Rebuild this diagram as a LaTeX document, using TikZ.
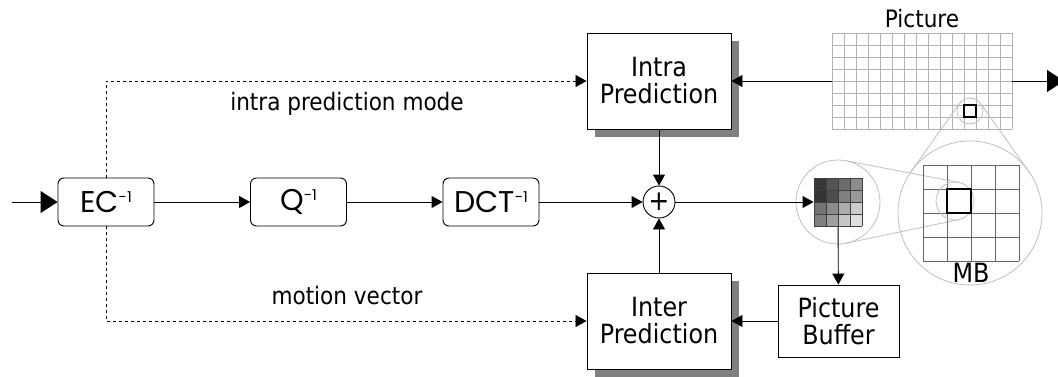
\documentclass[tikz,border=0pt]{standalone}
\usepackage{fontspec}
\setmainfont{DejaVu Sans Condensed}
\newfontfamily\geofont{Poppins}
\usetikzlibrary{arrows.meta,shadows,calc}
% raised "-1" for the inverse stages
\newcommand\invsup{\raisebox{10.5pt}{\fontsize{15}{15}\selectfont -1}}
\definecolor{gridgray}{gray}{0.70}
\definecolor{ringgray}{gray}{0.75}
\begin{document}
\begin{tikzpicture}[x=1pt,y=-1pt,line width=0.9pt,
  lbl/.style={font=\fontsize{24}{24}\selectfont},
  boxlbl/.style={font=\fontsize{26.5}{27}\selectfont},
  stage/.style={draw, rounded corners=6pt, minimum width=96pt, minimum height=48pt,
    inner sep=0pt, font=\geofont\fontsize{30}{30}\selectfont},
  predbox/.style={draw, fill=white, minimum width=144pt, minimum height=96pt, inner sep=0pt,
    align=center, boxlbl, drop shadow={shadow xshift=8pt, shadow yshift=-8pt, fill=black!50, opacity=1}},
  bufbox/.style={draw, fill=white, minimum width=121pt, minimum height=72pt, inner sep=0pt,
    align=center, boxlbl},
  arr/.style={-{Triangle[length=11pt,width=12pt]}},
  bigarr/.style={-{Triangle[length=17pt,width=22pt]}},
  sideinfo/.style={dashed, dash pattern=on 3pt off 3pt, line width=0.7pt, -{Triangle[length=11pt,width=12pt]}},
  ring/.style={draw=ringgray, line width=0.8pt},
  thick square/.style={draw=black, line width=2.6pt}]
\useasboundingbox (0,0) rectangle (1058,376);

% ---------- zoom rings and tangent lines (drawn first, behind everything) ----------
\coordinate (c1) at (838,202);   % ring round the reconstructed block
\coordinate (c2) at (955,201);   % small ring inside the MB view
\coordinate (c3) at (970,111);   % small ring on the picture
\coordinate (c4) at (970,213);   % MB view ring
\draw[ring] (c4) circle[radius=72];
\draw[ring] ($(c1)+(-78.7:42)$) -- ($(c2)+(-78.7:19)$);
\draw[ring] ($(c1)+(78.7:42)$) -- ($(c2)+(78.7:19)$);

% ---------- main pipeline ----------
\coordinate (in) at (12,202);
\node[stage] (ec)  at (106,202)   {EC\invsup};
\node[stage] (q)   at (298.5,202) {Q\invsup};
\node[stage] (dct) at (491,202)   {DCT\invsup};
\node[draw, circle, minimum size=32pt, inner sep=0pt, font=\fontsize{28}{28}\selectfont] (plus) at (659,202) {+};

\node[predbox] (intra) at (659,81)  {Intra\\Prediction};
\node[predbox] (inter) at (659,321) {Inter\\Prediction};
\node[bufbox]  (buf)   at (838.5,321) {Picture\\Buffer};

\node[lbl] (modelbl) at (347,104) {intra prediction mode};
\node[lbl] (mvlbl)   at (347,296) {motion vector};

% ---------- picture frame ----------
\node[minimum width=180pt, minimum height=96pt, inner sep=0pt] (pic) at (922,81) {};
\node[lbl] (piclbl) at (922,19) {Picture};
\foreach \i in {0,...,15} \draw[gridgray, line width=0.8pt] (832+12*\i,33) -- (832+12*\i,129);
\foreach \j in {0,...,8}  \draw[gridgray, line width=0.8pt] (832,33+12*\j) -- (1012,33+12*\j);
\draw[ring] ($(c3)+(-144.7:13)$) -- ($(c4)+(-144.7:72)$);
\draw[ring] ($(c3)+(-35.3:13)$) -- ($(c4)+(-35.3:72)$);
\draw[ring, fill=none] (c3) circle[radius=13];
\draw[thick square] (964,105) rectangle (976,117);
\coordinate (out) at (1064,81);

% ---------- MB view ----------
\foreach \i in {0,...,4} \draw[black!60, line width=0.8pt] (923+24*\i,165) -- (923+24*\i,261);
\foreach \j in {0,...,4} \draw[black!60, line width=0.8pt] (923,165+24*\j) -- (1019,165+24*\j);
\draw[ring] (c2) circle[radius=19];
\draw[thick square] (947,189) rectangle (971,213);
\node[boxlbl] (mb) at (971,273) {MB};

% ---------- reconstructed 4x4 block ----------
\draw[ring] (c1) circle[radius=42];
\node[minimum width=48pt, minimum height=48pt, inner sep=0pt] (blk) at (838,202) {};
\foreach \r/\shades in {0/{78,67,58,45}, 1/{80,70,50,40}, 2/{55,45,32,20}, 3/{50,38,22,12}} {
  \foreach \s [count=\c from 0] in \shades
    \fill[black!\s] (814+12*\c,178+12*\r) rectangle ++(12,12);
}
\foreach \i in {0,...,4} {
  \draw[black!75, line width=0.6pt] (814+12*\i,178) -- (814+12*\i,226);
  \draw[black!75, line width=0.6pt] (814,178+12*\i) -- (862,178+12*\i);
}

% ---------- connectors ----------
\draw[bigarr] (in) -- (ec.west);
\draw[arr] (ec) -- (q);
\draw[arr] (q) -- (dct);
\draw[arr] (dct) -- (plus);
\draw[arr] (intra) -- (plus);
\draw[arr] (inter) -- (plus);
\draw[arr] (plus) -- (blk);
\draw[arr] (blk) -- (buf);
\draw[arr] (buf) -- (inter);
\draw[arr] (pic) -- (intra);
\draw[bigarr] (pic.east) -- (out);
\draw[sideinfo] (ec.north) |- (intra.west);
\draw[sideinfo] (ec.south) |- (inter.west);
\end{tikzpicture}
\end{document}
